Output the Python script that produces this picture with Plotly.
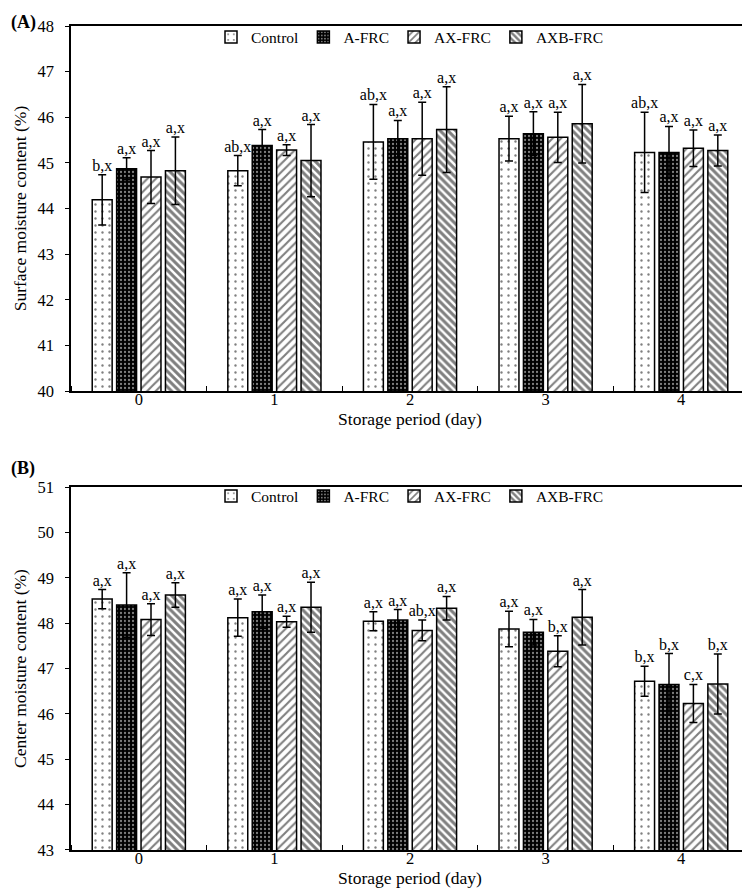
import plotly.graph_objects as go
from plotly.subplots import make_subplots

#------------------------ DATOS --------------------------#

days = [0, 1, 2, 3, 4]
day_labels = ["0", "1", "2", "3", "4"]
series = ["Control", "A-FRC", "AX-FRC", "AXB-FRC"]

# (A) Surface moisture content (%)
surf_control = [44.19, 44.83, 45.46, 45.53, 45.23]
surf_control_sd = [0.55, 0.33, 0.82, 0.49, 0.88]
surf_afrc = [44.87, 45.38, 45.53, 45.64, 45.23]
surf_afrc_sd = [0.24, 0.35, 0.40, 0.48, 0.57]
surf_axfrc = [44.69, 45.28, 45.53, 45.56, 45.32]
surf_axfrc_sd = [0.58, 0.12, 0.80, 0.55, 0.40]
surf_axbfrc = [44.83, 45.05, 45.73, 45.86, 45.27]
surf_axbfrc_sd = [0.74, 0.79, 0.94, 0.86, 0.34]

surf_control_lbl = ["b,x", "ab,x", "ab,x", "a,x", "ab,x"]
surf_afrc_lbl = ["a,x", "a,x", "a,x", "a,x", "a,x"]
surf_axfrc_lbl = ["a,x", "a,x", "a,x", "a,x", "a,x"]
surf_axbfrc_lbl = ["a,x", "a,x", "a,x", "a,x", "a,x"]

# (B) Center moisture content (%)
cent_control = [48.53, 48.12, 48.04, 47.87, 46.72]
cent_control_sd = [0.21, 0.41, 0.21, 0.39, 0.33]
cent_afrc = [48.40, 48.25, 48.07, 47.80, 46.65]
cent_afrc_sd = [0.71, 0.37, 0.23, 0.28, 0.68]
cent_axfrc = [48.08, 48.03, 47.84, 47.38, 46.23]
cent_axfrc_sd = [0.35, 0.12, 0.23, 0.34, 0.42]
cent_axbfrc = [48.62, 48.35, 48.33, 48.13, 46.66]
cent_axbfrc_sd = [0.27, 0.55, 0.26, 0.61, 0.66]

cent_control_lbl = ["a,x", "a,x", "a,x", "a,x", "b,x"]
cent_afrc_lbl = ["a,x", "a,x", "a,x", "a,x", "b,x"]
cent_axfrc_lbl = ["a,x", "a,x", "ab,x", "b,x", "c,x"]
cent_axbfrc_lbl = ["a,x", "a,x", "a,x", "a,x", "b,x"]

surface = [
	(surf_control, surf_control_sd, surf_control_lbl),
	(surf_afrc, surf_afrc_sd, surf_afrc_lbl),
	(surf_axfrc, surf_axfrc_sd, surf_axfrc_lbl),
	(surf_axbfrc, surf_axbfrc_sd, surf_axbfrc_lbl),
]
center = [
	(cent_control, cent_control_sd, cent_control_lbl),
	(cent_afrc, cent_afrc_sd, cent_afrc_lbl),
	(cent_axfrc, cent_axfrc_sd, cent_axfrc_lbl),
	(cent_axbfrc, cent_axbfrc_sd, cent_axbfrc_lbl),
]

#---------------- ESTILOS ----------------------#

font_name = "Liberation Serif"
slot = 0.18
bar_w = 0.147

patterns = [
	dict(color="white", pattern=dict(shape=".", fgcolor="black", bgcolor="white", size=7, solidity=0.09)),
	dict(color="black", pattern=dict(shape=".", fgcolor="white", bgcolor="black", size=4, solidity=0.25)),
	dict(color="white", pattern=dict(shape="/", fgcolor="black", bgcolor="white", size=6, solidity=0.35)),
	dict(color="white", pattern=dict(shape="\\", fgcolor="black", bgcolor="white", size=5.5, solidity=0.55)),
]

#-------------------- GRAFICO ------------------------------#

fig = make_subplots(rows=2, cols=1)


def add_panel(data, row, legend_name):
	for k, (vals, sd, lbl) in enumerate(data):
		xs = [d + (k - 1.5) * slot for d in days]
		fig.add_trace(go.Bar(
			x=xs, y=vals, width=bar_w, name=series[k],
			marker=dict(color=patterns[k]["color"], pattern=patterns[k]["pattern"],
						line=dict(color="black", width=1.5)),
			error_y=dict(type="data", array=sd, color="black", thickness=1.5, width=4),
			legend=legend_name, showlegend=True
		), row=row, col=1)
		fig.add_trace(go.Scatter(
			x=xs, y=[v + s for v, s in zip(vals, sd)], mode="text", text=lbl,
			textposition="top center", textfont=dict(size=16, color="black", family=font_name),
			showlegend=False, cliponaxis=False, hoverinfo="skip"
		), row=row, col=1)


add_panel(surface, 1, "legend")
add_panel(center, 2, "legend2")

xaxis_style = dict(
	range=[-0.5, 4.5], tickvals=days, ticktext=day_labels, ticks="",
	minor=dict(tick0=0.5, dtick=1, ticks="inside", ticklen=5, tickcolor="black", tickwidth=1),
	showline=True, linecolor="black", linewidth=1.5, mirror=True, showgrid=False, zeroline=False,
	ticklabelstandoff=-8,
	tickfont=dict(size=16.5, color="black", family=font_name),
	title=dict(text="Storage period (day)", font=dict(size=17.5, color="black", family=font_name), standoff=2)
)
fig.update_xaxes(**xaxis_style)

yaxis_style = dict(
	dtick=1, ticks="outside", ticklen=4, tickcolor="black",
	showline=True, linecolor="black", linewidth=1.5, mirror=True, showgrid=False, zeroline=False,
	ticklabelstandoff=8,
	tickfont=dict(size=16.5, color="black", family=font_name)
)
fig.update_yaxes(**yaxis_style)
fig.update_yaxes(range=[40, 48], domain=[0.557, 1.0], row=1, col=1,
				 title=dict(text="Surface moisture content (%)", font=dict(size=17.5, color="black", family=font_name), standoff=6))
fig.update_yaxes(range=[43, 51], domain=[0.0, 0.4405], row=2, col=1,
				 title=dict(text="Center moisture content (%)", font=dict(size=17.5, color="black", family=font_name), standoff=6))

legend_style = dict(
	orientation="h", x=0.5, xanchor="center", yanchor="middle",
	font=dict(size=15.5, color="black", family=font_name),
	bgcolor="rgba(0,0,0,0)", itemwidth=30
)

fig.update_layout(
	width=750, height=895,
	margin=dict(l=63, r=7, t=18, b=53),
	barmode="overlay",
	plot_bgcolor="white", paper_bgcolor="white",
	font=dict(family=font_name, color="black"),
	legend=dict(y=0.986, **legend_style),
	legend2=dict(y=0.429, **legend_style),
	annotations=[
		dict(text="<b>(A)</b>", x=-62 / 680, y=(842 - 14) / 824, xref="paper", yref="paper",
			 xanchor="left", yanchor="middle", showarrow=False, font=dict(size=18, family=font_name)),
		dict(text="<b>(B)</b>", x=-62 / 680, y=(842 - 460) / 824, xref="paper", yref="paper",
			 xanchor="left", yanchor="middle", showarrow=False, font=dict(size=18, family=font_name)),
	]
)

fig.write_html("out.html")
